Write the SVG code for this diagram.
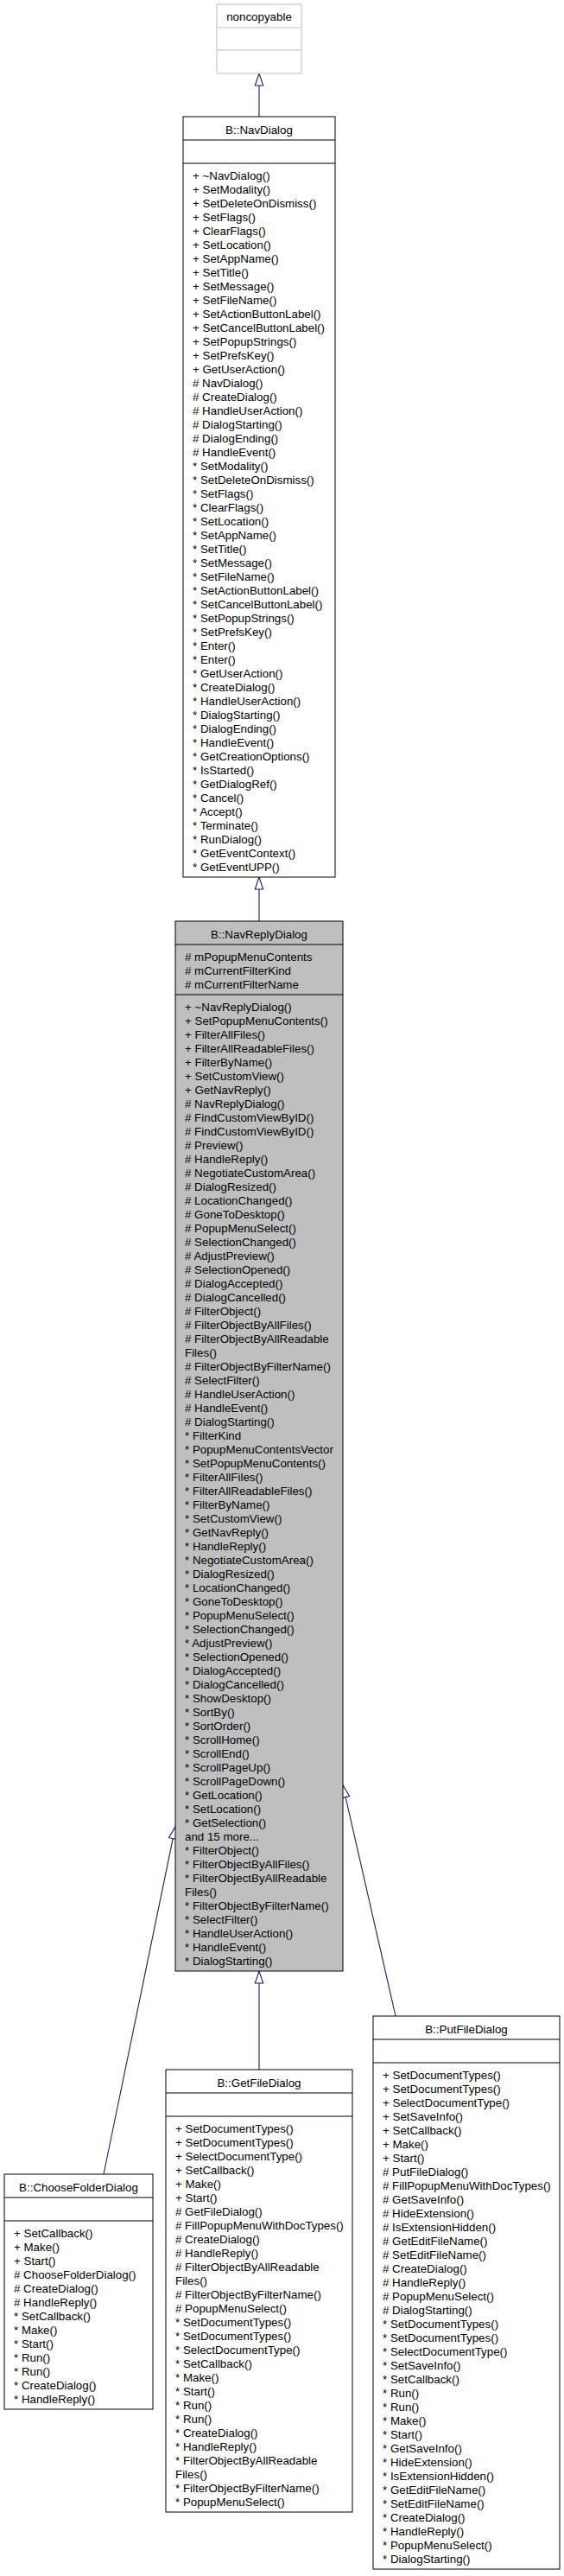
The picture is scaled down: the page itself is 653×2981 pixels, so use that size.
<svg xmlns="http://www.w3.org/2000/svg" width="653" height="2981" viewBox="0 0 653 2981">
<style>
  .box { fill: #ffffff; stroke: #000000; stroke-width: 1; }
  .cur { fill: #bfbfbf; stroke: #000000; stroke-width: 1; }
  .ext { fill: #ffffff; stroke: #bfbfbf; stroke-width: 1; }
  .div { stroke: #000000; stroke-width: 1; }
  .divx { stroke: #bfbfbf; stroke-width: 1; }
  text { font-family: "Liberation Sans", Arial, Helvetica, sans-serif; font-size: 13.33px; fill: #000000; }
  .c { text-anchor: middle; }
  .edge { stroke: #191970; stroke-width: 1.1; fill: none; }
  .head { stroke: #191970; stroke-width: 1.1; fill: #ffffff; }
</style>
<rect x="0" y="0" width="653" height="2981" fill="#ffffff"/>

<g id="connectors">
  <line class="edge" x1="300" y1="99" x2="300" y2="135"/>
  <polygon class="head" points="300,85 295.3,99 304.7,99"/>
  <line class="edge" x1="300" y1="1029" x2="300" y2="1066"/>
  <polygon class="head" points="300,1015 295.3,1029 304.7,1029"/>
  <line class="edge" x1="300" y1="2295" x2="300" y2="2395"/>
  <polygon class="head" points="300,2281 295.3,2295 304.7,2295"/>
  <line class="edge" x1="200.2" y1="2127.7" x2="120" y2="2516"/>
  <polygon class="head" points="203,2114 204.8,2128.6 195.6,2126.7"/>
  <line class="edge" x1="400.1" y1="2079.6" x2="458" y2="2333"/>
  <polygon class="head" points="397,2066 404.7,2078.6 395.5,2080.7"/>
</g>

<g id="noncopyable">
  <rect class="ext" x="251" y="5" width="98" height="80"/>
  <line class="divx" x1="251" y1="32" x2="349" y2="32"/>
  <line class="divx" x1="251" y1="58" x2="349" y2="58"/>
  <text class="c" x="300" y="24">noncopyable</text>
</g>

<g id="NavDialog">
  <rect class="box" x="212" y="135" width="176" height="880"/>
  <line class="div" x1="212" y1="162" x2="388" y2="162"/>
  <line class="div" x1="212" y1="189" x2="388" y2="189"/>
  <text class="c" x="300" y="155">B::NavDialog</text>
  <text x="223" y="208"><tspan x="223">+ ~NavDialog()</tspan><tspan x="223" dy="16">+ SetModality()</tspan><tspan x="223" dy="16">+ SetDeleteOnDismiss()</tspan><tspan x="223" dy="16">+ SetFlags()</tspan><tspan x="223" dy="16">+ ClearFlags()</tspan><tspan x="223" dy="16">+ SetLocation()</tspan><tspan x="223" dy="16">+ SetAppName()</tspan><tspan x="223" dy="16">+ SetTitle()</tspan><tspan x="223" dy="16">+ SetMessage()</tspan><tspan x="223" dy="16">+ SetFileName()</tspan><tspan x="223" dy="16">+ SetActionButtonLabel()</tspan><tspan x="223" dy="16">+ SetCancelButtonLabel()</tspan><tspan x="223" dy="16">+ SetPopupStrings()</tspan><tspan x="223" dy="16">+ SetPrefsKey()</tspan><tspan x="223" dy="16">+ GetUserAction()</tspan><tspan x="223" dy="16"># NavDialog()</tspan><tspan x="223" dy="16"># CreateDialog()</tspan><tspan x="223" dy="16"># HandleUserAction()</tspan><tspan x="223" dy="16"># DialogStarting()</tspan><tspan x="223" dy="16"># DialogEnding()</tspan><tspan x="223" dy="16"># HandleEvent()</tspan><tspan x="223" dy="16">* SetModality()</tspan><tspan x="223" dy="16">* SetDeleteOnDismiss()</tspan><tspan x="223" dy="16">* SetFlags()</tspan><tspan x="223" dy="16">* ClearFlags()</tspan><tspan x="223" dy="16">* SetLocation()</tspan><tspan x="223" dy="16">* SetAppName()</tspan><tspan x="223" dy="16">* SetTitle()</tspan><tspan x="223" dy="16">* SetMessage()</tspan><tspan x="223" dy="16">* SetFileName()</tspan><tspan x="223" dy="16">* SetActionButtonLabel()</tspan><tspan x="223" dy="16">* SetCancelButtonLabel()</tspan><tspan x="223" dy="16">* SetPopupStrings()</tspan><tspan x="223" dy="16">* SetPrefsKey()</tspan><tspan x="223" dy="16">* Enter()</tspan><tspan x="223" dy="16">* Enter()</tspan><tspan x="223" dy="16">* GetUserAction()</tspan><tspan x="223" dy="16">* CreateDialog()</tspan><tspan x="223" dy="16">* HandleUserAction()</tspan><tspan x="223" dy="16">* DialogStarting()</tspan><tspan x="223" dy="16">* DialogEnding()</tspan><tspan x="223" dy="16">* HandleEvent()</tspan><tspan x="223" dy="16">* GetCreationOptions()</tspan><tspan x="223" dy="16">* IsStarted()</tspan><tspan x="223" dy="16">* GetDialogRef()</tspan><tspan x="223" dy="16">* Cancel()</tspan><tspan x="223" dy="16">* Accept()</tspan><tspan x="223" dy="16">* Terminate()</tspan><tspan x="223" dy="16">* RunDialog()</tspan><tspan x="223" dy="16">* GetEventContext()</tspan><tspan x="223" dy="16">* GetEventUPP()</tspan></text>
</g>

<g id="NavReplyDialog">
  <rect class="cur" x="203" y="1066" width="194" height="1215"/>
  <line class="div" x1="203" y1="1093" x2="397" y2="1093"/>
  <line class="div" x1="203" y1="1151" x2="397" y2="1151"/>
  <text class="c" x="300" y="1085.5">B::NavReplyDialog</text>
  <text x="214" y="1112"><tspan x="214"># mPopupMenuContents</tspan><tspan x="214" dy="16"># mCurrentFilterKind</tspan><tspan x="214" dy="16"># mCurrentFilterName</tspan></text>
  <text x="214" y="1170"><tspan x="214">+ ~NavReplyDialog()</tspan><tspan x="214" dy="16">+ SetPopupMenuContents()</tspan><tspan x="214" dy="16">+ FilterAllFiles()</tspan><tspan x="214" dy="16">+ FilterAllReadableFiles()</tspan><tspan x="214" dy="16">+ FilterByName()</tspan><tspan x="214" dy="16">+ SetCustomView()</tspan><tspan x="214" dy="16">+ GetNavReply()</tspan><tspan x="214" dy="16"># NavReplyDialog()</tspan><tspan x="214" dy="16"># FindCustomViewByID()</tspan><tspan x="214" dy="16"># FindCustomViewByID()</tspan><tspan x="214" dy="16"># Preview()</tspan><tspan x="214" dy="16"># HandleReply()</tspan><tspan x="214" dy="16"># NegotiateCustomArea()</tspan><tspan x="214" dy="16"># DialogResized()</tspan><tspan x="214" dy="16"># LocationChanged()</tspan><tspan x="214" dy="16"># GoneToDesktop()</tspan><tspan x="214" dy="16"># PopupMenuSelect()</tspan><tspan x="214" dy="16"># SelectionChanged()</tspan><tspan x="214" dy="16"># AdjustPreview()</tspan><tspan x="214" dy="16"># SelectionOpened()</tspan><tspan x="214" dy="16"># DialogAccepted()</tspan><tspan x="214" dy="16"># DialogCancelled()</tspan><tspan x="214" dy="16"># FilterObject()</tspan><tspan x="214" dy="16"># FilterObjectByAllFiles()</tspan><tspan x="214" dy="16"># FilterObjectByAllReadable</tspan><tspan x="214" dy="16">Files()</tspan><tspan x="214" dy="16"># FilterObjectByFilterName()</tspan><tspan x="214" dy="16"># SelectFilter()</tspan><tspan x="214" dy="16"># HandleUserAction()</tspan><tspan x="214" dy="16"># HandleEvent()</tspan><tspan x="214" dy="16"># DialogStarting()</tspan><tspan x="214" dy="16">* FilterKind</tspan><tspan x="214" dy="16">* PopupMenuContentsVector</tspan><tspan x="214" dy="16">* SetPopupMenuContents()</tspan><tspan x="214" dy="16">* FilterAllFiles()</tspan><tspan x="214" dy="16">* FilterAllReadableFiles()</tspan><tspan x="214" dy="16">* FilterByName()</tspan><tspan x="214" dy="16">* SetCustomView()</tspan><tspan x="214" dy="16">* GetNavReply()</tspan><tspan x="214" dy="16">* HandleReply()</tspan><tspan x="214" dy="16">* NegotiateCustomArea()</tspan><tspan x="214" dy="16">* DialogResized()</tspan><tspan x="214" dy="16">* LocationChanged()</tspan><tspan x="214" dy="16">* GoneToDesktop()</tspan><tspan x="214" dy="16">* PopupMenuSelect()</tspan><tspan x="214" dy="16">* SelectionChanged()</tspan><tspan x="214" dy="16">* AdjustPreview()</tspan><tspan x="214" dy="16">* SelectionOpened()</tspan><tspan x="214" dy="16">* DialogAccepted()</tspan><tspan x="214" dy="16">* DialogCancelled()</tspan><tspan x="214" dy="16">* ShowDesktop()</tspan><tspan x="214" dy="16">* SortBy()</tspan><tspan x="214" dy="16">* SortOrder()</tspan><tspan x="214" dy="16">* ScrollHome()</tspan><tspan x="214" dy="16">* ScrollEnd()</tspan><tspan x="214" dy="16">* ScrollPageUp()</tspan><tspan x="214" dy="16">* ScrollPageDown()</tspan><tspan x="214" dy="16">* GetLocation()</tspan><tspan x="214" dy="16">* SetLocation()</tspan><tspan x="214" dy="16">* GetSelection()</tspan><tspan x="214" dy="16">and 15 more...</tspan><tspan x="214" dy="16">* FilterObject()</tspan><tspan x="214" dy="16">* FilterObjectByAllFiles()</tspan><tspan x="214" dy="16">* FilterObjectByAllReadable</tspan><tspan x="214" dy="16">Files()</tspan><tspan x="214" dy="16">* FilterObjectByFilterName()</tspan><tspan x="214" dy="16">* SelectFilter()</tspan><tspan x="214" dy="16">* HandleUserAction()</tspan><tspan x="214" dy="16">* HandleEvent()</tspan><tspan x="214" dy="16">* DialogStarting()</tspan></text>
</g>

<g id="ChooseFolderDialog">
  <rect class="box" x="5" y="2516" width="172" height="272"/>
  <line class="div" x1="5" y1="2543" x2="177" y2="2543"/>
  <line class="div" x1="5" y1="2570" x2="177" y2="2570"/>
  <text class="c" x="91" y="2535.5">B::ChooseFolderDialog</text>
  <text x="16" y="2589"><tspan x="16">+ SetCallback()</tspan><tspan x="16" dy="16">+ Make()</tspan><tspan x="16" dy="16">+ Start()</tspan><tspan x="16" dy="16"># ChooseFolderDialog()</tspan><tspan x="16" dy="16"># CreateDialog()</tspan><tspan x="16" dy="16"># HandleReply()</tspan><tspan x="16" dy="16">* SetCallback()</tspan><tspan x="16" dy="16">* Make()</tspan><tspan x="16" dy="16">* Start()</tspan><tspan x="16" dy="16">* Run()</tspan><tspan x="16" dy="16">* Run()</tspan><tspan x="16" dy="16">* CreateDialog()</tspan><tspan x="16" dy="16">* HandleReply()</tspan></text>
</g>

<g id="GetFileDialog">
  <rect class="box" x="192" y="2395" width="216" height="512"/>
  <line class="div" x1="192" y1="2422" x2="408" y2="2422"/>
  <line class="div" x1="192" y1="2449" x2="408" y2="2449"/>
  <text class="c" x="300" y="2414.5">B::GetFileDialog</text>
  <text x="203" y="2468"><tspan x="203">+ SetDocumentTypes()</tspan><tspan x="203" dy="16">+ SetDocumentTypes()</tspan><tspan x="203" dy="16">+ SelectDocumentType()</tspan><tspan x="203" dy="16">+ SetCallback()</tspan><tspan x="203" dy="16">+ Make()</tspan><tspan x="203" dy="16">+ Start()</tspan><tspan x="203" dy="16"># GetFileDialog()</tspan><tspan x="203" dy="16"># FillPopupMenuWithDocTypes()</tspan><tspan x="203" dy="16"># CreateDialog()</tspan><tspan x="203" dy="16"># HandleReply()</tspan><tspan x="203" dy="16"># FilterObjectByAllReadable</tspan><tspan x="203" dy="16">Files()</tspan><tspan x="203" dy="16"># FilterObjectByFilterName()</tspan><tspan x="203" dy="16"># PopupMenuSelect()</tspan><tspan x="203" dy="16">* SetDocumentTypes()</tspan><tspan x="203" dy="16">* SetDocumentTypes()</tspan><tspan x="203" dy="16">* SelectDocumentType()</tspan><tspan x="203" dy="16">* SetCallback()</tspan><tspan x="203" dy="16">* Make()</tspan><tspan x="203" dy="16">* Start()</tspan><tspan x="203" dy="16">* Run()</tspan><tspan x="203" dy="16">* Run()</tspan><tspan x="203" dy="16">* CreateDialog()</tspan><tspan x="203" dy="16">* HandleReply()</tspan><tspan x="203" dy="16">* FilterObjectByAllReadable</tspan><tspan x="203" dy="16">Files()</tspan><tspan x="203" dy="16">* FilterObjectByFilterName()</tspan><tspan x="203" dy="16">* PopupMenuSelect()</tspan></text>
</g>

<g id="PutFileDialog">
  <rect class="box" x="432" y="2333" width="216" height="640"/>
  <line class="div" x1="432" y1="2360" x2="648" y2="2360"/>
  <line class="div" x1="432" y1="2387" x2="648" y2="2387"/>
  <text class="c" x="540" y="2352.5">B::PutFileDialog</text>
  <text x="443" y="2406"><tspan x="443">+ SetDocumentTypes()</tspan><tspan x="443" dy="16">+ SetDocumentTypes()</tspan><tspan x="443" dy="16">+ SelectDocumentType()</tspan><tspan x="443" dy="16">+ SetSaveInfo()</tspan><tspan x="443" dy="16">+ SetCallback()</tspan><tspan x="443" dy="16">+ Make()</tspan><tspan x="443" dy="16">+ Start()</tspan><tspan x="443" dy="16"># PutFileDialog()</tspan><tspan x="443" dy="16"># FillPopupMenuWithDocTypes()</tspan><tspan x="443" dy="16"># GetSaveInfo()</tspan><tspan x="443" dy="16"># HideExtension()</tspan><tspan x="443" dy="16"># IsExtensionHidden()</tspan><tspan x="443" dy="16"># GetEditFileName()</tspan><tspan x="443" dy="16"># SetEditFileName()</tspan><tspan x="443" dy="16"># CreateDialog()</tspan><tspan x="443" dy="16"># HandleReply()</tspan><tspan x="443" dy="16"># PopupMenuSelect()</tspan><tspan x="443" dy="16"># DialogStarting()</tspan><tspan x="443" dy="16">* SetDocumentTypes()</tspan><tspan x="443" dy="16">* SetDocumentTypes()</tspan><tspan x="443" dy="16">* SelectDocumentType()</tspan><tspan x="443" dy="16">* SetSaveInfo()</tspan><tspan x="443" dy="16">* SetCallback()</tspan><tspan x="443" dy="16">* Run()</tspan><tspan x="443" dy="16">* Run()</tspan><tspan x="443" dy="16">* Make()</tspan><tspan x="443" dy="16">* Start()</tspan><tspan x="443" dy="16">* GetSaveInfo()</tspan><tspan x="443" dy="16">* HideExtension()</tspan><tspan x="443" dy="16">* IsExtensionHidden()</tspan><tspan x="443" dy="16">* GetEditFileName()</tspan><tspan x="443" dy="16">* SetEditFileName()</tspan><tspan x="443" dy="16">* CreateDialog()</tspan><tspan x="443" dy="16">* HandleReply()</tspan><tspan x="443" dy="16">* PopupMenuSelect()</tspan><tspan x="443" dy="16">* DialogStarting()</tspan></text>
</g>
</svg>
